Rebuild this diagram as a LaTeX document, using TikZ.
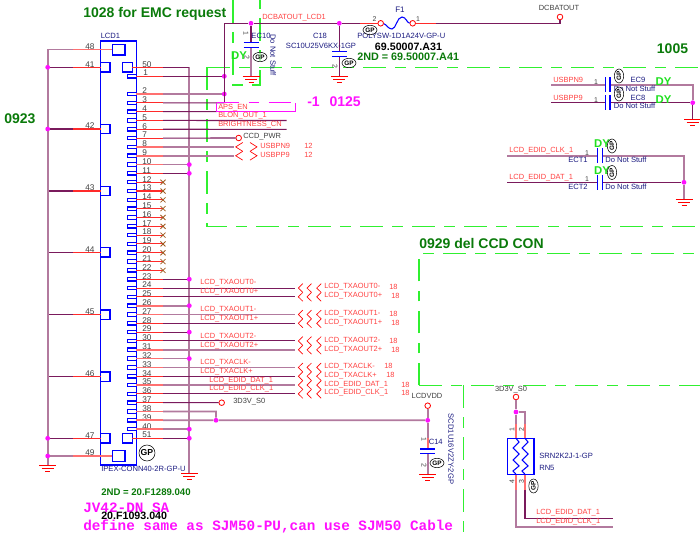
\documentclass[tikz,border=0pt]{standalone}
\usepackage{fontspec}
\setmainfont{Liberation Sans}
\setmonofont{Liberation Mono}
\usetikzlibrary{shapes.geometric,calc}
\definecolor{wiredark}{HTML}{7A1A5C}
\definecolor{wirelight}{HTML}{B27A9E}
\definecolor{stubred}{HTML}{FF2A2A}
\definecolor{stublight}{HTML}{FF7070}
\definecolor{navytxt}{HTML}{1A1A80}
\definecolor{nettxt}{HTML}{FF4040}
\definecolor{pintxt}{HTML}{404040}
\definecolor{notegreen}{HTML}{0A7A0A}
\definecolor{dashgreen}{HTML}{30F030}
\definecolor{dygreen}{HTML}{20E020}
\definecolor{xbrown}{HTML}{A05A20}
\definecolor{notepink}{HTML}{FF10FF}
\tikzset{
  wire/.style={wiredark, line width=0.8pt},
  wirefat/.style={wirelight, line width=1.3pt},
  stub/.style={stubred, line width=0.8pt},
  stubfat/.style={stublight, line width=1.3pt},
  partline/.style={blue, line width=1pt},
  zig/.style={red, line width=0.5pt},
  gndline/.style={red, line width=0.6pt},
  zone/.style={dashgreen, line width=1.1pt, dash pattern=on 17pt off 7pt on 8pt off 7pt},
  jdot/.style={circle, fill=notepink, inner sep=0pt, minimum size=3.6pt},
  term/.style={circle, draw=red, fill=white, line width=0.6pt, inner sep=0pt, minimum size=4.2pt},
  gpmark/.style={ellipse, draw=black, fill=white, fill opacity=0.6, text opacity=1, inner sep=0pt, minimum width=10.5pt, minimum height=7pt, font=\fontsize{4.8}{5}\selectfont\bfseries},
  pinnum/.style={text=pintxt, inner sep=0pt, font=\fontsize{6.2}{7}\selectfont},
  smallnum/.style={text=pintxt, inner sep=0pt, font=\fontsize{5.2}{6}\selectfont},
  netname/.style={text=nettxt, inner sep=0pt, anchor=west, font=\fontsize{5.6}{6}\selectfont},
  partname/.style={text=navytxt, inner sep=0pt, font=\fontsize{5.7}{6}\selectfont},
  note/.style={text=notegreen, inner sep=0pt, font=\fontsize{10.5}{12}\selectfont\bfseries},
  dytxt/.style={text=dygreen, inner sep=0pt, font=\fontsize{8.5}{10}\selectfont\bfseries},
  monotxt/.style={text=notepink, inner sep=0pt, anchor=west, font=\fontsize{10.75}{12}\selectfont\ttfamily\bfseries}
}
\newcommand{\gndsym}[1]{\draw[gndline] (#1) ++(-8.5,0) -- ++(17,0) ++(-14.5,3) -- ++(12,0) ++(-8.5,3) -- ++(5,0);}
\newcommand{\capplates}[4]{\draw[partline] (#1-#3,#2) -- (#1+#3,#2) (#1-#3,#2+#4) -- (#1+#3,#2+#4);}
\newcommand{\capside}[3]{\draw[partline] (#1,#2-7.5) -- (#1,#2+7.5) (#1+#3,#2-7.5) -- (#1+#3,#2+7.5);}
\begin{document}
\begin{tikzpicture}[x=0.75pt, y=-0.75pt]
\useasboundingbox (0,0) rectangle (700,534);

\draw[zone] (233,0) -- (233,85) -- (260,85) -- (260,0);
\draw[zone] (207,67.5) -- (700,67.5);
\draw[zone] (207,67.5) -- (207,226.5) -- (700,226.5);
\draw[zone] (419,385.5) -- (419,253.5) -- (700,253.5);
\draw[zone] (419,385.5) -- (700,385.5);
\draw[zone] (463.3,385.5) -- (463.3,534);

\foreach \n in {2,...,40} {
  \coordinate (P\n) at (136.3,{94+(\n-2)*8.82});
  \coordinate (M\n) at (163,{94+(\n-2)*8.82});
  \coordinate (T\n) at (189.3,{94+(\n-2)*8.82});
  \coordinate (W\n) at (295,{94+(\n-2)*8.82});
  \draw[partline, line width=0.9pt] (127.7,{92.3+(\n-2)*8.82}) rectangle (136.3,{95.7+(\n-2)*8.82});
  \node[pinnum, anchor=west] (num\n) at (142,{91+(\n-2)*8.82}) {\n};
}
\coordinate (P1) at (136.3,76.3);
\coordinate (M1) at (163,76.3);
\draw[partline, line width=0.9pt] (127.7,74.6) rectangle (136.3,78);
\node[pinnum, anchor=west] (num1) at (143,72.7) {1};
\node[pinnum, anchor=west] (num50) at (142,64.3) {50};
\node[pinnum, anchor=west] (num51) at (142,435) {51};

\draw[partline] (100.5,41) rectangle (136.3,465);
\draw[partline] (122.7,62.7) rectangle (132.3,71.9);
\draw[partline] (112.3,44.3) rectangle (125,55);
\draw[partline] (112.3,450.7) rectangle (125,461.3);
\draw[partline] (122.7,433.7) rectangle (132.3,443);
\foreach \n/\y in {41/67.3,42/129,43/191,44/252.3,45/314.7,46/376.7,47/438.3} {
  \draw[partline] (100.5,\y-4.6) rectangle (110,\y+4.6);
}
\node[partname, anchor=west] (lcdname) at (100.5,36) {LCD1};
\node[partname, anchor=west] (lcdtype) at (101,469) {IPEX-CONN40-2R-GP-U};
\node[gpmark, circle, minimum size=12pt, font=\fontsize{6.5}{7}\selectfont\bfseries] (gplcd) at (147,453) {GP};

\foreach \n/\y in {41/67.3,42/129,43/191,44/252.3,45/314.7,46/376.7,47/438.3} {
  \coordinate (L\n) at (47.7,\y);
  \draw[wire] (L\n) -- (73,\y);
  \draw[stub] (73,\y) -- (100.5,\y);
  \node[pinnum] (num\n) at (90,\y-3) {\n};
}
\coordinate (L48) at (47.7,49.5);
\coordinate (L49) at (47.7,456);
\draw[wirefat] (L48) -- (73,49.5);
\draw[stubfat] (73,49.5) -- (112.3,49.5);
\draw[wirefat] (L49) -- (73,456);
\draw[stubfat] (73,456) -- (112.3,456);
\node[pinnum] (num48) at (90,47) {48};
\node[pinnum] (num49) at (90,453) {49};

\coordinate (railgnd) at (47.7,465);
\draw[wirefat] (L48) -- (railgnd);
\gndsym{railgnd}
\foreach \n in {41,42,47} { \node[jdot] (dl\n) at (L\n) {}; }
\node[jdot] (dl49) at (L49) {};

\coordinate (busa) at (189.3,67.3);
\coordinate (busgnd) at (189.3,473);
\draw[wirefat] (busa) -- (busgnd);
\gndsym{busgnd}
\draw[stub] (132.3,67.3) -- (163,67.3);
\draw[wire] (163,67.3) -- (busa);
\draw[stub] (132.3,438.3) -- (163,438.3);
\draw[wire] (163,438.3) -- (189.3,438.3);
\foreach \n in {11,23,29} {
  \draw[stub] (P\n) -- (M\n);
  \draw[wire] (M\n) -- (T\n);
  \node[jdot] (db\n) at (T\n) {};
}
\foreach \n in {10,26,32,40} {
  \draw[stubfat] (P\n) -- (M\n);
  \draw[wirefat] (M\n) -- (T\n);
  \node[jdot] (db\n) at (T\n) {};
}
\node[jdot] (db51) at (189.3,438.3) {};

\foreach \n in {12,...,22} {
  \draw[stub] (P\n) -- (M\n);
  \draw[xbrown, line width=0.6pt] ($(M\n)+(-2.5,-2.5)$) -- ($(M\n)+(2.5,2.5)$) ($(M\n)+(-2.5,2.5)$) -- ($(M\n)+(2.5,-2.5)$);
}

\coordinate (vbat) at (224.3,23.3);
\coordinate (apsend) at (224.3,102.8);
\node[jdot] (dvone) at (224.3,76.3) {};
\node[jdot] (dvtwo) at (224.3,94) {};
\draw[wire] (vbat) -- (apsend);
\draw[stub] (P1) -- (M1);
\draw[wire] (M1) -- (dvone);
\draw[stubfat] (P2) -- (M2);
\draw[wirefat] (M2) -- (dvtwo);
\draw[stub] (P3) -- (M3);
\draw[wire] (M3) -- (apsend);
\draw[stub] (P4) -- (M4);
\draw[wire] (M4) -- (216.7,111.7);
\draw[stub] (P5) -- (M5);
\draw[wire] (M5) -- (286.7,120.5);
\draw[stub] (P6) -- (M6);
\draw[wire] (M6) -- (286.7,129.3);
\draw[notepink, line width=0.7pt, dash pattern=on 17pt off 7pt on 8pt off 7pt] (216.7,102.7) -- (295,102.7);
\draw[notepink, line width=0.7pt] (216.7,102.7) -- (216.7,111.7) -- (295,111.7) -- (295,102.7);
\node[netname] (apsen) at (218,107.3) {APS\_EN};
\node[netname] (blon) at (218,116) {BLON\_OUT\_1};
\node[netname] (bright) at (218,124.7) {BRIGHTNESS\_CN};

\node[term] (ccdterm) at (238.7,138) {};
\draw[stub] (P7) -- (M7);
\draw[wire] (M7) -- (ccdterm);
\node[pinnum, anchor=west, font=\fontsize{5.6}{6}\selectfont] (ccdname) at (243,137) {CCD\_PWR};
\foreach \n in {8,9} {
  \draw[stubfat] (P\n) -- (M\n);
  \draw[wirefat] (M\n) -- (234,{94+(\n-2)*8.82});
  \draw[zig] (242.7,{94+(\n-2)*8.82-4.4}) -- (235.7,{94+(\n-2)*8.82}) -- (242.7,{94+(\n-2)*8.82+4.4});
  \draw[zig] (250,{94+(\n-2)*8.82-4.4}) -- (257,{94+(\n-2)*8.82}) -- (250,{94+(\n-2)*8.82+4.4});
}
\node[netname] (usbnsheet) at (260,145.5) {USBPN9};
\node[netname] (usbpsheet) at (260,154.5) {USBPP9};
\node[netname] (usbnpage) at (304,145.5) {12};
\node[netname] (usbppage) at (304,154.5) {12};

\foreach \n in {25,28,34,36,24,30} {
  \draw[stub] (P\n) -- (M\n);
  \draw[wire] (M\n) -- (W\n);
}
\foreach \n in {27,31,33,35} {
  \draw[stubfat] (P\n) -- (M\n);
  \draw[wirefat] (M\n) -- (W\n);
}
\foreach \n in {24,25,27,28,30,31,33,34,35,36} {
  \foreach \xa in {298.3,307,316.7} {
    \draw[zig] (\xa+4.5,{94+(\n-2)*8.82-4.4}) -- (\xa,{94+(\n-2)*8.82}) -- (\xa+4.5,{94+(\n-2)*8.82+4.4});
  }
}
\foreach \y/\xl/\lbl in {283/200/LCD\_TXAOUT0-,292/200/LCD\_TXAOUT0+,309.5/200/LCD\_TXAOUT1-,319/200/LCD\_TXAOUT1+,337/200/LCD\_TXAOUT2-,346/200/LCD\_TXAOUT2+,363/200/LCD\_TXACLK-,372/200/LCD\_TXACLK+,381/209/LCD\_EDID\_DAT\_1,389/209/LCD\_EDID\_CLK\_1} {
  \node[netname] at (\xl,\y) {\lbl};
  \node[netname] at (324,\y+4) {\lbl};
}
\foreach \y/\xp in {287/389,296/391,313.5/389,322.5/391,340.5/389,349.5/391,366/384,375/386,384.5/401,393/401} {
  \node[netname] at (\xp,\y) {18};
}

\node[term] (stationa) at (221.7,402.7) {};
\draw[stub] (P37) -- (M37);
\draw[wire] (M37) -- (stationa);
\node[pinnum, anchor=west, font=\fontsize{5.6}{6}\selectfont] (stationname) at (233,402) {3D3V\_S0};

\coordinate (vddbend) at (216,411.5);
\node[jdot] (dvdda) at (216,420.3) {};
\node[jdot] (dvddb) at (427.7,420.3) {};
\node[term] (vddterm) at (427.7,405.7) {};
\coordinate (cfourgnd) at (427.7,474);
\draw[stubfat] (P38) -- (M38);
\draw[wirefat] (M38) -- (vddbend) -- (dvdda);
\draw[stubfat] (P39) -- (M39);
\draw[wirefat] (M39) -- (dvdda) -- (dvddb);
\draw[wirefat] (vddterm) -- (dvddb);
\draw[wirefat] (dvddb) -- (427.7,449);
\draw[stubfat] (427.7,438) -- (427.7,449);
\draw[wirefat] (427.7,453.5) -- (cfourgnd);
\capplates{427.7}{449}{7.5}{4.5}
\gndsym{cfourgnd}
\node[pinnum, anchor=center, font=\fontsize{5.6}{6}\selectfont] (vddname) at (427,396) {LCDVDD};
\node[partname, anchor=west] (cfourname) at (428.5,442) {C14};
\node[smallnum, rotate=-90] (cfourpa) at (424,439) {1};
\node[smallnum, rotate=-90] (cfourpb) at (424,465) {2};
\node[gpmark] (gpcfour) at (437,463) {GP};
\node[partname, rotate=-90] (cfourtype) at (451,449) {SCD1U16V2ZY-2GP};

\node[jdot] (dbata) at (251,23.3) {};
\node[jdot] (dbatb) at (339.3,23.3) {};
\node[term] (fusea) at (380.7,23.3) {};
\node[term] (fuseb) at (412.7,23.3) {};
\node[term] (batterm) at (560,17) {};
\coordinate (batbend) at (560,23.3);
\coordinate (ecgnd) at (251,76.7);
\coordinate (cegnd) at (339.3,76.7);
\draw[wire] (vbat) -- (dbata) -- (dbatb) -- (fusea);
\draw[stub] (360,23.3) -- (fusea);
\draw[wire] (fuseb) -- (batbend) -- (batterm);
\draw[stub] (fuseb) -- (436,23.3);
\draw[blue, line width=0.8pt] (fusea) .. controls (386,24) and (388,29) .. (392,29) .. controls (396,29) and (397,17) .. (402,17) .. controls (406,17) and (407,23) .. (fuseb);
\draw[wire] (dbata) -- (251,42.7);
\draw[wirefat] (251,47.3) -- (ecgnd);
\draw[wire] (dbatb) -- (339.3,51.7);
\draw[wire] (339.3,56.7) -- (cegnd);
\capplates{251}{42.7}{7.5}{4.6}
\capplates{339.3}{51.7}{7.5}{5}
\gndsym{ecgnd}
\gndsym{cegnd}
\node[netname] (batlcd) at (262,18) {DCBATOUT\_LCD1};
\node[pinnum, font=\fontsize{5.6}{6}\selectfont] (batname) at (559,8) {DCBATOUT};
\node[partname] (ectenname) at (261,36) {EC10};
\node[partname, rotate=-90] (ectentype) at (273,55) {Do Not Stuff};
\node[smallnum, rotate=-90] (ectenpa) at (246,33) {1};
\node[smallnum, rotate=-90] (ectenpb) at (247,57.5) {2};
\node[dytxt] (ectendy) at (239,56) {DY};
\node[gpmark] (gpecten) at (260,57) {GP};
\node[partname] (ceighteen) at (320,36) {C18};
\node[partname] (ceightype) at (321,45.5) {SC10U25V6KX-1GP};
\node[gpmark] (gpceight) at (349,63) {GP};
\node[smallnum, rotate=-90] (ceightp) at (335,66) {2};
\node[partname, font=\fontsize{6}{7}\selectfont] (fusename) at (400,10) {F1};
\node[smallnum] (fusepa) at (374.5,19.5) {2};
\node[smallnum] (fusepb) at (418,19.5) {1};
\node[partname, anchor=west] (fusetype) at (357,36) {POLYSW-1D1A24V-GP-U};
\node[gpmark] (gpfuse) at (370,30) {GP};
\node[inner sep=0pt, font=\fontsize{8}{9}\selectfont\bfseries] (fusepn) at (408.5,47) {69.50007.A31};
\node[text=notegreen, inner sep=0pt, anchor=west, font=\fontsize{8.1}{9}\selectfont\bfseries] (fusealt) at (357,56.3) {2ND = 69.50007.A41};

\coordinate (usbna) at (551,85);
\coordinate (usbpa) at (551,102.7);
\coordinate (usbcorner) at (692.7,85);
\node[jdot] (dusb) at (692.7,102.7) {};
\coordinate (usbgnd) at (692.7,119.5);
\draw[wirefat] (usbna) -- (605,85);
\draw[wire] (usbpa) -- (605,102.7);
\draw[wirefat] (610,85) -- (usbcorner) -- (dusb);
\draw[wire] (610,102.7) -- (dusb);
\draw[wire] (dusb) -- (usbgnd);
\capside{605.5}{85}{4.6}
\capside{605.5}{102.7}{4.6}
\gndsym{usbgnd}
\node[netname] (usbnname) at (553,80) {USBPN9};
\node[netname] (usbpname) at (553,98) {USBPP9};
\node[smallnum] (ecninep) at (596,82) {1};
\node[smallnum] (eceightp) at (596,100) {1};
\node[partname] (ecnine) at (638,80) {EC9};
\node[partname] (eceight) at (638,98) {EC8};
\node[partname] (ecninetype) at (634.5,89) {Do Not Stuff};
\node[partname] (eceighttype) at (634.5,106) {Do Not Stuff};
\node[dytxt] (ecninedy) at (663.5,81.5) {DY};
\node[dytxt] (eceightdy) at (663.5,99.5) {DY};
\node[gpmark, rotate=90] (gpecnine) at (619,76) {GP};
\node[gpmark, rotate=90] (gpeceight) at (619,94) {GP};

\coordinate (ectaa) at (507,155.7);
\coordinate (ectba) at (507,182.3);
\coordinate (ectcorner) at (684,155.7);
\node[jdot] (dect) at (684,182.3) {};
\coordinate (ectgnd) at (684,199.3);
\draw[wirefat] (ectaa) -- (597,155.7);
\draw[wire] (ectba) -- (597,182.3);
\draw[wirefat] (602.5,155.7) -- (ectcorner) -- (dect);
\draw[wire] (602.5,182.3) -- (dect);
\draw[wirefat] (dect) -- (ectgnd);
\capside{597.3}{155.7}{5}
\capside{597.3}{182.3}{5}
\gndsym{ectgnd}
\node[netname] (ectaname) at (509,151) {LCD\_EDID\_CLK\_1};
\node[netname] (ectbname) at (509,178) {LCD\_EDID\_DAT\_1};
\node[smallnum] (ectap) at (587,153) {1};
\node[smallnum] (ectbp) at (587,179.5) {1};
\node[partname] (ectaref) at (578,160) {ECT1};
\node[partname] (ectbref) at (578,186.5) {ECT2};
\node[partname, anchor=west] (ectatype) at (605,160) {Do Not Stuff};
\node[partname, anchor=west] (ectbtype) at (605,186.5) {Do Not Stuff};
\node[dytxt] (ectady) at (602,144) {DY};
\node[dytxt] (ectbdy) at (602,170.5) {DY};
\node[gpmark, rotate=90] (gpecta) at (612,146) {GP};
\node[gpmark, rotate=90] (gpectb) at (612,172.5) {GP};

\node[term] (rnterm) at (516,397) {};
\node[jdot] (drn) at (516,412) {};
\coordinate (rnb) at (525,412);
\coordinate (rnaend) at (613,527);
\coordinate (rnbend) at (613,518.3);
\draw[wirefat] (rnterm) -- (drn) -- (516,424);
\draw[wirefat] (drn) -- (rnb) -- (525,424);
\draw[stubfat] (516,424) -- (516,438.3);
\draw[stubfat] (525,424) -- (525,438.3);
\draw[stubfat] (516,474.3) -- (516,490);
\draw[stubfat] (525,474.3) -- (525,490);
\draw[wirefat] (516,490) |- (rnaend);
\draw[wire] (525,490) |- (rnbend);
\draw[partline] (507.3,438.3) rectangle (534,474.3);
\foreach \xa in {516,525} {
  \draw[blue, line width=0.8pt] (\xa,438.3) -- (\xa+3,442) -- (\xa-3,448) -- (\xa+3,454) -- (\xa-3,460) -- (\xa+3,466) -- (\xa-3,471) -- (\xa,474.3);
}
\node[pinnum, font=\fontsize{5.6}{6}\selectfont] (rnpower) at (511,389.3) {3D3V\_S0};
\node[smallnum, rotate=90] (rnpa) at (512,430) {1};
\node[smallnum, rotate=90] (rnpb) at (521.5,430) {2};
\node[smallnum, rotate=90] (rnpd) at (512,482) {4};
\node[smallnum, rotate=90] (rnpc) at (521.5,482) {3};
\node[partname, anchor=west] (rntype) at (539,456) {SRN2K2J-1-GP};
\node[partname, anchor=west] (rnref) at (539,467.5) {RN5};
\node[gpmark, rotate=90] (gprn) at (533.5,486) {GP};
\node[netname] (rndat) at (536,513) {LCD\_EDID\_DAT\_1};
\node[netname] (rnclk) at (536,522) {LCD\_EDID\_CLK\_1};

\node[note, anchor=west] (notefmc) at (83,14) {1028 for EMC request};
\node[note, anchor=west] (noteleft) at (4,119) {0923};
\node[note] (noteright) at (672.5,49) {1005};
\node[note, anchor=west] (noteccd) at (419,243) {0929 del CCD CON};
\node[text=notepink, inner sep=0pt, anchor=west, font=\fontsize{10.5}{12}\selectfont\bfseries] (notedash) at (307,102) {-1\hspace{0.7em}0125};
\node[text=notegreen, inner sep=0pt, anchor=west, font=\fontsize{7.2}{8}\selectfont\bfseries] (lcdalt) at (101,492) {2ND = 20.F1289.040};
\node[monotxt] (noteproj) at (83,508) {JV42-DN SA};
\node[inner sep=0pt, anchor=west, font=\fontsize{8}{9}\selectfont\bfseries] (lcdpn) at (101,516) {20.F1093.040};
\node[monotxt] (notecable) at (83,526) {define same as SJM50-PU,can use SJM50 Cable};
\end{tikzpicture}
\end{document}
